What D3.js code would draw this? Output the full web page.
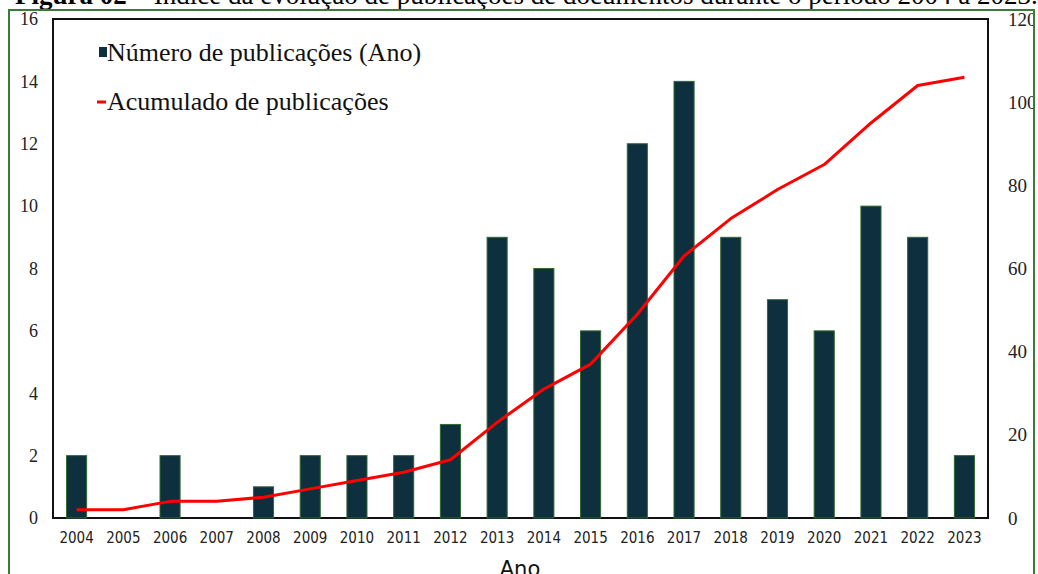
<!DOCTYPE html>
<html>
<head>
<meta charset="utf-8">
<script src="https://cdn.jsdelivr.net/npm/d3@7"></script>
<style>
  html, body { margin: 0; padding: 0; background: #fff; overflow: hidden; }
</style>
</head>
<body>
<div id="chart"></div>
<script>
const years = ["2004","2005","2006","2007","2008","2009","2010","2011","2012","2013",
               "2014","2015","2016","2017","2018","2019","2020","2021","2022","2023"];
const perYear = [2,0,2,0,1,2,2,2,3,9,8,6,12,14,9,7,6,10,9,2];
const cumulative = [2,2,4,4,5,7,9,11,14,23,31,37,49,63,72,79,85,95,104,106];
const leftTicks = [0,2,4,6,8,10,12,14,16];
const rightTicks = [0,20,40,60,80,100,120];

const width = 1038;
const height = 574;
const margin = { top: 19, right: 50, bottom: 56, left: 53 };

const svg = d3.create("svg")
    .attr("width", width)
    .attr("height", height)
    .attr("viewBox", [0, 0, width, height]);

// title, partly cut at the top
const title = svg.append("text")
    .attr("x", 15)
    .attr("y", 4)
    .attr("font-family", "Liberation Serif")
    .attr("font-size", 27)
    .attr("fill", "#000");
title.append("tspan").attr("font-weight", "bold").text("Figura 02");
title.append("tspan").text(" – Índice da evolução de publicações de documentos durante o período 2004 a 2023.");

svg.append("clipPath").attr("id", "frame")
    .append("rect").attr("x", 9).attr("y", 10).attr("width", 1025).attr("height", 600);

const g = svg.append("g").attr("clip-path", "url(#frame)");

const x = d3.scaleBand()
    .domain(years)
    .range([margin.left, width - margin.right])
    .paddingInner(0.57)
    .paddingOuter(0.29);

const y = d3.scaleLinear().domain([0, 16]).range([height - margin.bottom, margin.top]);
const y2 = d3.scaleLinear().domain([0, 120]).range([height - margin.bottom, margin.top]);

// plot box
g.append("rect")
    .attr("x", margin.left)
    .attr("y", margin.top)
    .attr("width", width - margin.right - margin.left)
    .attr("height", height - margin.bottom - margin.top)
    .attr("fill", "none")
    .attr("stroke", "#111")
    .attr("stroke-width", 2);

g.append("g")
    .selectAll("rect")
    .data(years)
    .join("rect")
    .attr("x", d => x(d))
    .attr("width", x.bandwidth())
    .attr("y", (d, i) => y(perYear[i]))
    .attr("height", (d, i) => y(0) - y(perYear[i]))
    .attr("fill", "#0d2f3e")
    .attr("stroke", "#2f6a2f")
    .attr("stroke-width", 1);

const line = d3.line()
    .x((d, i) => x(years[i]) + x.bandwidth() / 2)
    .y(d => y2(d));

g.append("path")
    .datum(cumulative)
    .attr("d", line)
    .attr("fill", "none")
    .attr("stroke", "#ff0000")
    .attr("stroke-width", 3)
    .attr("stroke-linejoin", "round");

// left axis labels
g.append("g")
    .selectAll("text")
    .data(leftTicks)
    .join("text")
    .attr("x", 38)
    .attr("y", d => y(d))
    .attr("dy", "0.35em")
    .attr("text-anchor", "end")
    .attr("font-family", "Liberation Serif")
    .attr("font-size", 18)
    .attr("fill", "#222")
    .text(d => d);

// right axis labels
g.append("g")
    .selectAll("text")
    .data(rightTicks)
    .join("text")
    .attr("x", 1008)
    .attr("y", d => y2(d))
    .attr("dy", "0.35em")
    .attr("text-anchor", "start")
    .attr("font-family", "Liberation Serif")
    .attr("font-size", 19)
    .attr("fill", "#222")
    .text(d => d);

// x labels
g.append("g")
    .selectAll("text")
    .data(years)
    .join("text")
    .attr("x", d => x(d) + x.bandwidth() / 2)
    .attr("y", 538)
    .attr("dy", "0.35em")
    .attr("text-anchor", "middle")
    .attr("font-family", "DejaVu Sans Condensed")
    .attr("font-size", 15)
    .attr("fill", "#222")
    .text(d => d);

g.append("text")
    .attr("x", 520)
    .attr("y", 576)
    .attr("text-anchor", "middle")
    .attr("font-family", "DejaVu Sans")
    .attr("font-size", 21)
    .attr("fill", "#111")
    .text("Ano");

// legend
const legend = g.append("g").attr("font-family", "Liberation Serif").attr("font-size", 26).attr("fill", "#111");
legend.append("rect").attr("x", 99).attr("y", 47).attr("width", 8).attr("height", 10).attr("fill", "#0d2f3e");
legend.append("text").attr("x", 107).attr("y", 52).attr("dy", "0.35em").text("Número de publicações (Ano)");
legend.append("line").attr("x1", 97).attr("x2", 106).attr("y1", 102).attr("y2", 102)
    .attr("stroke", "#ff0000").attr("stroke-width", 3);
legend.append("text").attr("x", 107).attr("y", 101).attr("dy", "0.35em").text("Acumulado de publicações");

// outer green frame
svg.append("rect")
    .attr("x", 9).attr("y", 10)
    .attr("width", 1025).attr("height", 600)
    .attr("fill", "none")
    .attr("stroke", "#3a7a3a")
    .attr("stroke-width", 2);

document.getElementById("chart").appendChild(svg.node());
</script>
</body>
</html>
